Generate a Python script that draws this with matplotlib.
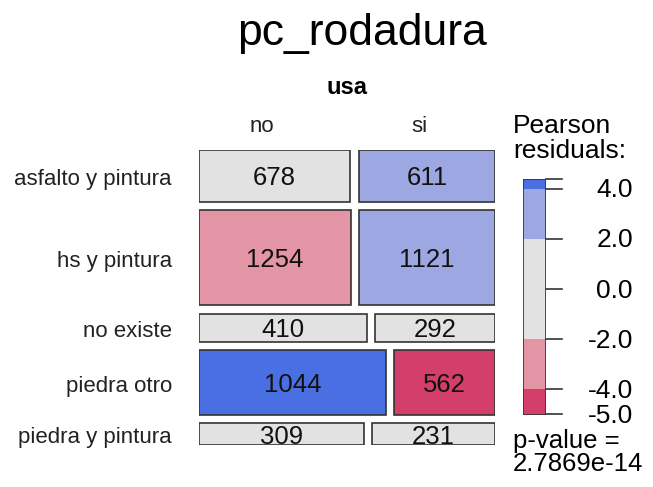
import numpy as np
import matplotlib
matplotlib.use("Agg")
import matplotlib.pyplot as plt
from matplotlib.patches import Rectangle

plt.rcParams['font.family'] = ['Liberation Sans', 'DejaVu Sans']

# data: rows = pc_rodadura, columns = usa
rows = ["asfalto y pintura", "hs y pintura", "no existe", "piedra otro", "piedra y pintura"]
cols = ["no", "si"]
counts = np.array([
    [678, 611],
    [1254, 1121],
    [410, 292],
    [1044, 562],
    [309, 231],
])
legend_ticks = [4.0, 2.0, 0.0, -2.0, -4.0]
p_value = "2.7869e-14"

# pearson residuals
total = counts.sum()
row_tot = counts.sum(axis=1)
col_tot = counts.sum(axis=0)
expected = np.outer(row_tot, col_tot) / total
resid = (counts - expected) / np.sqrt(expected)
rmin, rmax = resid.min(), resid.max()


def shade(r):
    if r > 4:
        return '#4A6FE3'
    if r > 2:
        return '#9DA8E2'
    if r < -4:
        return '#D33F6A'
    if r < -2:
        return '#E495A5'
    return '#E2E2E2'


W, H = 653, 487
fig = plt.figure(figsize=(W / 100, H / 100), dpi=100)


def fx(x):
    return x / W


def fy(y):
    return 1 - y / H


# main mosaic axes
L, R, T, B = 199, 495, 150, 445
ax = fig.add_axes([fx(L), fy(B), fx(R) - fx(L), fy(T) - fy(B)])
ax.set_xlim(0, 1)
ax.set_ylim(1, 0)
ax.axis('off')

gx = 8.5 / (R - L)
gy = 8.5 / (B - T)
nr, nc = counts.shape
avail_h = 1 - gy * (nr - 1)
avail_w = 1 - gx * (nc - 1)
dy = 2.5 / (B - T)  # small downward nudge for text

y0 = 0
for i in range(nr):
    h = row_tot[i] / total * avail_h
    x0 = 0
    for j in range(nc):
        w = counts[i, j] / row_tot[i] * avail_w
        ax.add_patch(Rectangle((x0, y0), w, h, facecolor=shade(resid[i, j]),
                               edgecolor='#333333', lw=1.2))
        ax.text(x0 + w / 2, y0 + h / 2 + dy, str(counts[i, j]), ha='center', va='center',
                fontsize=18.5, color='#111111')
        x0 += w + gx
    fig.text(fx(172), fy(T) + (fy(B) - fy(T)) * (y0 + h / 2 + dy * 1.4), rows[i],
             ha='right', va='center', fontsize=16, color='#222222')
    y0 += h + gy

# titles and column labels
fig.text(fx(362), fy(33), "pc_rodadura", ha='center', va='center', fontsize=32)
fig.text(fx(347), fy(88), "usa", ha='center', va='center', fontsize=17, fontweight='bold')
fig.text(fx(262), fy(127), cols[0], ha='center', va='center', fontsize=16, color='#222222')
fig.text(fx(419), fy(127), cols[1], ha='center', va='center', fontsize=16, color='#222222')

# legend
lax = fig.add_axes([fx(523), fy(415), fx(546) - fx(523), fy(179) - fy(415)])
lax.set_xlim(0, 1)
lax.set_ylim(rmin, rmax)
lax.axis('off')
bands = [(rmin, -4), (-4, -2), (-2, 2), (2, 4), (4, rmax)]
for lo, hi in bands:
    lax.add_patch(Rectangle((0, lo), 1, hi - lo, facecolor=shade((lo + hi) / 2),
                            edgecolor='none'))
lax.add_patch(Rectangle((0, rmin), 1, rmax - rmin, facecolor='none',
                        edgecolor='#333333', lw=1.2))
tick_vals = legend_ticks + [round(rmin, 1)]
for v in tick_vals + [rmax]:
    lax.plot([1, 1.7], [max(v, rmin), max(v, rmin)], color='#333333', lw=1.2,
             clip_on=False)
for v in tick_vals:
    lax.text(4.78, max(v, rmin) - 0.06, f"{v:.1f}", ha='right', va='center', fontsize=19,
             clip_on=False)

fig.text(fx(513), fy(126), "Pearson", ha='left', va='center', fontsize=19)
fig.text(fx(513), fy(151), "residuals:", ha='left', va='center', fontsize=19)
fig.text(fx(513), fy(441), "p-value =", ha='left', va='center', fontsize=18.5)
fig.text(fx(513), fy(464), p_value, ha='left', va='center', fontsize=18.5)

fig.savefig("out.png", dpi=100)
